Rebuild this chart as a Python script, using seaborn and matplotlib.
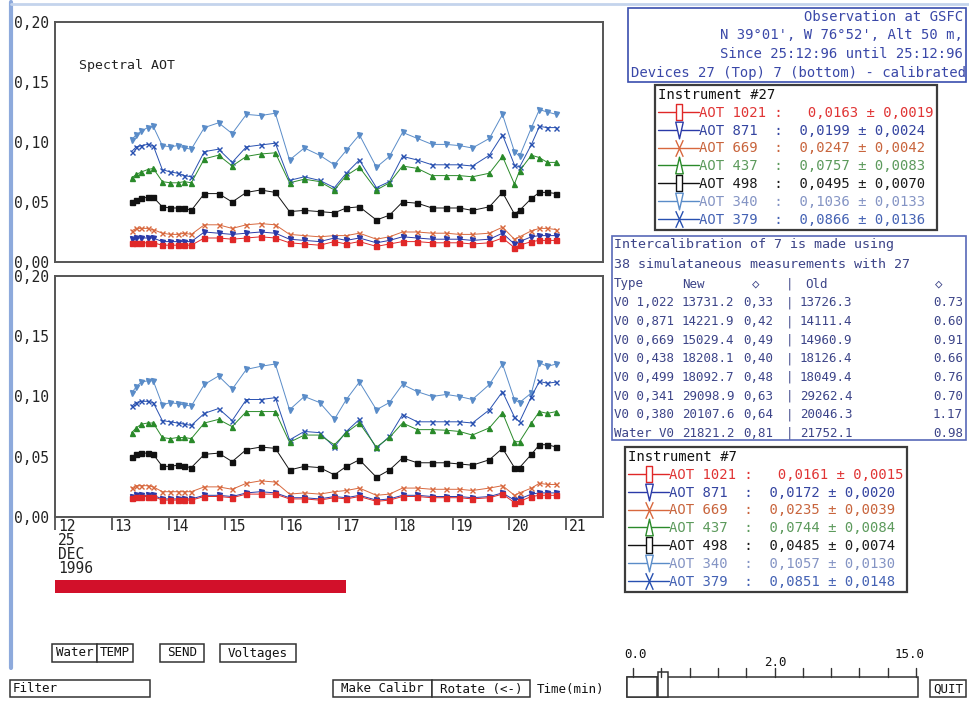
import matplotlib
matplotlib.use("Agg")
import matplotlib.pyplot as plt
import matplotlib.transforms as mtransforms
import seaborn as sns
from matplotlib.lines import Line2D
from matplotlib.patches import Rectangle
from matplotlib.path import Path
from matplotlib.ticker import FixedLocator

# ---------------------------------------------------------------- data
# decimal hours (UT) of the 38 simultaneous measurements, 25 Dec 1996
hours = [13.35, 13.43, 13.52, 13.63, 13.73, 13.89, 14.03, 14.16, 14.28, 14.40,
         14.63, 14.88, 15.12, 15.37, 15.62, 15.88, 16.13, 16.39, 16.66, 16.92,
         17.13, 17.36, 17.66, 17.89, 18.12, 18.38, 18.64, 18.89, 19.12, 19.35,
         19.65, 19.88, 20.09, 20.18, 20.39, 20.53, 20.67, 20.83]

bands = ["1021", "871", "669", "437", "498", "340", "379"]

# instrument #27 (top panel)
top_1021 = [0.016, 0.016, 0.016, 0.016, 0.016, 0.014, 0.014, 0.014, 0.014, 0.014,
            0.020, 0.020, 0.019, 0.020, 0.021, 0.020, 0.016, 0.015, 0.014, 0.017,
            0.015, 0.017, 0.013, 0.015, 0.017, 0.017, 0.016, 0.016, 0.016, 0.015,
            0.016, 0.020, 0.012, 0.014, 0.017, 0.018, 0.018, 0.018]
top_871 = [0.019, 0.020, 0.020, 0.020, 0.020, 0.017, 0.017, 0.017, 0.017, 0.017,
           0.025, 0.024, 0.023, 0.024, 0.025, 0.024, 0.019, 0.018, 0.017, 0.020,
           0.018, 0.020, 0.016, 0.018, 0.021, 0.020, 0.019, 0.019, 0.019, 0.018,
           0.019, 0.024, 0.015, 0.017, 0.021, 0.022, 0.022, 0.022]
top_669 = [0.026, 0.028, 0.028, 0.028, 0.027, 0.024, 0.023, 0.023, 0.024, 0.023,
           0.031, 0.031, 0.028, 0.031, 0.032, 0.031, 0.023, 0.022, 0.021, 0.022,
           0.022, 0.024, 0.019, 0.021, 0.025, 0.025, 0.024, 0.024, 0.023, 0.023,
           0.024, 0.029, 0.019, 0.021, 0.026, 0.028, 0.028, 0.027]
top_437 = [0.070, 0.073, 0.075, 0.077, 0.078, 0.067, 0.066, 0.066, 0.067, 0.066,
           0.086, 0.089, 0.080, 0.088, 0.090, 0.091, 0.066, 0.069, 0.067, 0.060,
           0.072, 0.079, 0.060, 0.066, 0.080, 0.078, 0.072, 0.072, 0.072, 0.071,
           0.074, 0.088, 0.065, 0.076, 0.089, 0.087, 0.083, 0.083]
top_498 = [0.050, 0.052, 0.053, 0.054, 0.054, 0.046, 0.045, 0.045, 0.045, 0.043,
           0.057, 0.057, 0.050, 0.058, 0.060, 0.058, 0.042, 0.043, 0.042, 0.041,
           0.045, 0.046, 0.035, 0.039, 0.050, 0.049, 0.045, 0.045, 0.045, 0.043,
           0.046, 0.058, 0.040, 0.043, 0.053, 0.058, 0.058, 0.057]
top_340 = [0.102, 0.106, 0.109, 0.112, 0.113, 0.097, 0.096, 0.097, 0.095, 0.094,
           0.112, 0.116, 0.107, 0.123, 0.122, 0.124, 0.085, 0.095, 0.089, 0.081,
           0.093, 0.106, 0.079, 0.088, 0.108, 0.103, 0.098, 0.098, 0.097, 0.095,
           0.103, 0.123, 0.092, 0.088, 0.112, 0.127, 0.125, 0.123]
top_379 = [0.092, 0.096, 0.097, 0.098, 0.097, 0.077, 0.075, 0.074, 0.072, 0.071,
           0.092, 0.094, 0.083, 0.096, 0.0975, 0.099, 0.068, 0.071, 0.068, 0.062,
           0.074, 0.085, 0.062, 0.067, 0.088, 0.085, 0.081, 0.081, 0.081, 0.080,
           0.089, 0.106, 0.081, 0.079, 0.098, 0.113, 0.112, 0.112]

# instrument #7 (bottom panel)
bot_1021 = [0.016, 0.017, 0.017, 0.017, 0.017, 0.014, 0.014, 0.014, 0.014, 0.014,
            0.017, 0.017, 0.016, 0.019, 0.019, 0.019, 0.015, 0.015, 0.014, 0.016,
            0.015, 0.017, 0.013, 0.014, 0.017, 0.017, 0.016, 0.016, 0.016, 0.015,
            0.016, 0.019, 0.012, 0.013, 0.017, 0.018, 0.018, 0.018]
bot_871 = [0.017, 0.018, 0.018, 0.018, 0.018, 0.015, 0.015, 0.015, 0.015, 0.015,
           0.018, 0.018, 0.017, 0.020, 0.021, 0.020, 0.016, 0.016, 0.015, 0.017,
           0.016, 0.018, 0.014, 0.015, 0.018, 0.018, 0.017, 0.017, 0.017, 0.016,
           0.017, 0.020, 0.014, 0.015, 0.019, 0.020, 0.020, 0.020]
bot_669 = [0.024, 0.026, 0.026, 0.026, 0.025, 0.021, 0.021, 0.021, 0.021, 0.021,
           0.025, 0.025, 0.023, 0.028, 0.030, 0.029, 0.019, 0.020, 0.019, 0.021,
           0.022, 0.024, 0.018, 0.019, 0.024, 0.024, 0.023, 0.023, 0.023, 0.022,
           0.024, 0.026, 0.018, 0.020, 0.024, 0.028, 0.027, 0.027]
bot_437 = [0.070, 0.074, 0.077, 0.078, 0.078, 0.066, 0.065, 0.066, 0.066, 0.065,
           0.078, 0.081, 0.075, 0.0875, 0.0875, 0.0875, 0.062, 0.068, 0.068, 0.060,
           0.070, 0.078, 0.058, 0.066, 0.078, 0.0725, 0.0725, 0.072, 0.071, 0.068,
           0.074, 0.0865, 0.0625, 0.0625, 0.078, 0.0875, 0.086, 0.0875]
bot_498 = [0.050, 0.052, 0.053, 0.053, 0.052, 0.042, 0.042, 0.043, 0.042, 0.041,
           0.052, 0.053, 0.046, 0.056, 0.058, 0.057, 0.039, 0.042, 0.041, 0.035,
           0.042, 0.0475, 0.033, 0.039, 0.049, 0.045, 0.045, 0.045, 0.044, 0.043,
           0.0475, 0.057, 0.041, 0.041, 0.052, 0.060, 0.060, 0.058]
bot_340 = [0.103, 0.108, 0.112, 0.113, 0.113, 0.093, 0.095, 0.094, 0.093, 0.092,
           0.110, 0.117, 0.106, 0.1225, 0.125, 0.127, 0.089, 0.100, 0.095, 0.081,
           0.0975, 0.112, 0.089, 0.095, 0.110, 0.104, 0.100, 0.1017, 0.100, 0.0975,
           0.110, 0.127, 0.0975, 0.095, 0.103, 0.128, 0.125, 0.127]
bot_379 = [0.092, 0.095, 0.096, 0.096, 0.095, 0.080, 0.079, 0.078, 0.077, 0.076,
           0.086, 0.090, 0.080, 0.0975, 0.0975, 0.099, 0.064, 0.071, 0.070, 0.058,
           0.071, 0.081, 0.057, 0.067, 0.085, 0.079, 0.079, 0.079, 0.079, 0.078,
           0.089, 0.104, 0.083, 0.079, 0.100, 0.1125, 0.111, 0.112]

top_series = [top_1021, top_871, top_669, top_437, top_498, top_340, top_379]
bot_series = [bot_1021, bot_871, bot_669, bot_437, bot_498, bot_340, bot_379]

# mean +- std per band, as reported for each instrument
mean_27 = [0.0163, 0.0199, 0.0247, 0.0757, 0.0495, 0.1036, 0.0866]
std_27 = [0.0019, 0.0024, 0.0042, 0.0083, 0.0070, 0.0133, 0.0136]
mean_7 = [0.0161, 0.0172, 0.0235, 0.0744, 0.0485, 0.1057, 0.0851]
std_7 = [0.0015, 0.0020, 0.0039, 0.0084, 0.0074, 0.0130, 0.0148]

# intercalibration table
v0_types = ["V0 1,022", "V0 0,871", "V0 0,669", "V0 0,438", "V0 0,499",
            "V0 0,341", "V0 0,380", "Water V0"]
v0_new = ["13731.2", "14221.9", "15029.4", "18208.1", "18092.7", "29098.9",
          "20107.6", "21821.2"]
sig_new = ["0,33", "0,42", "0,49", "0,40", "0,48", "0,63", "0,64", "0,81"]
v0_old = ["13726.3", "14111.4", "14960.9", "18126.4", "18049.4", "29262.4",
          "20046.3", "21752.1"]
sig_old = ["0.73", "0.60", "0.91", "0.66", "0.76", "0.70", "1.17", "0.98"]

y_ticks = [0.00, 0.05, 0.10, 0.15, 0.20]
y_ticklabels = ["0,00", "0,05", "0,10", "0,15", "0,20"]
x_ticks = [12, 13, 14, 15, 16, 17, 18, 19, 20, 21]
x_ticklabels = ["12\n25\nDEC\n1996", "13", "14", "15", "16", "17", "18", "19", "20", "21"]
progress_end = 17.13

# ---------------------------------------------------------------- style
line_colors = {"1021": "#e02828", "871": "#2a3aa8", "669": "#d8683e",
               "437": "#2a8a2a", "498": "#111111", "340": "#5a8cc8",
               "379": "#2850b0"}
text_colors = {"1021": "#e03434", "871": "#3444a0", "669": "#c8643c",
               "437": "#5c9a5c", "498": "#1a1a1a", "340": "#8494c4",
               "379": "#4462b4"}
plot_markers = {"1021": "s", "871": "v", "669": "x", "437": "^",
                "498": "s", "340": "v", "379": "x"}


def tall(kind):
    M, L, C = Path.MOVETO, Path.LINETO, Path.CLOSEPOLY
    if kind == "rect":
        return Path([(-0.4, -1), (0.4, -1), (0.4, 1), (-0.4, 1), (-0.4, -1)],
                    [M, L, L, L, C])
    if kind == "down":
        return Path([(-0.45, 1), (0.45, 1), (0, -1), (-0.45, 1)], [M, L, L, C])
    if kind == "up":
        return Path([(-0.45, -1), (0.45, -1), (0, 1), (-0.45, -1)], [M, L, L, C])
    return Path([(-0.45, -1), (0.45, 1), (-0.45, 1), (0.45, -1)], [M, L, M, L])


legend_markers = {"1021": tall("rect"), "871": tall("down"), "669": tall("x"),
                  "437": tall("up"), "498": tall("rect"), "340": tall("down"),
                  "379": tall("x")}

sns.set_style("white")
plt.rcParams["font.family"] = ["DejaVu Sans Mono", "DejaVu Sans"]

W, H = 969, 702
fig = plt.figure(figsize=(W / 100, H / 100), dpi=100)
fig.patch.set_facecolor("white")


def fx(x):
    return x / W


def fy(y):
    return 1 - y / H


def box(x0, y0, x1, y1, ec="#333333", lw=1.0, fc="white"):
    fig.add_artist(Rectangle((fx(x0), fy(y1)), (x1 - x0) / W, (y1 - y0) / H,
                             transform=fig.transFigure, facecolor=fc,
                             edgecolor=ec, lw=lw))


def say(x, y, s, size=10, color="#111111", ha="left"):
    fig.text(fx(x), fy(y), s, ha=ha, va="center", fontsize=size, color=color)


# window frame
fig.add_artist(Line2D([fx(11), fx(11)], [fy(2), fy(668)], color="#8eaadc", lw=3,
                      transform=fig.transFigure))
fig.add_artist(Line2D([fx(11), fx(969)], [fy(4), fy(4)], color="#c4d4ec", lw=2,
                      transform=fig.transFigure))

# ---------------------------------------------------------------- panels
ax_top = fig.add_axes([fx(55), fy(262), (603 - 55) / W, (262 - 22) / H])
ax_bot = fig.add_axes([fx(55), fy(517), (603 - 55) / W, (517 - 276) / H])

draw_order = ["340", "379", "437", "498", "669", "871", "1021"]
for ax, series in ((ax_top, top_series), (ax_bot, bot_series)):
    by_band = dict(zip(bands, series))
    for band in draw_order:
        c = line_colors[band]
        sns.lineplot(x=hours, y=by_band[band], ax=ax, color=c,
                     marker=plot_markers[band], markersize=3.6,
                     markeredgecolor=c, markerfacecolor=c, markeredgewidth=1.0,
                     linewidth=0.7, estimator=None, sort=False, legend=False)
    ax.set_xlim(12, 21.65)
    ax.set_ylim(0, 0.20)
    ax.set_xlabel("")
    ax.set_ylabel("")
    ax.set_yticks(y_ticks)
    ax.set_yticklabels(y_ticklabels)
    ax.yaxis.set_minor_locator(FixedLocator([0.05, 0.10, 0.15]))
    ax.tick_params(axis="y", which="major", left=True, length=0, pad=4,
                   labelsize=10.5, labelcolor="#222222")
    ax.tick_params(axis="y", which="minor", left=True, direction="in",
                   length=6, width=1.1, color="#333333")
    for sp in ax.spines.values():
        sp.set_color("#555555")
        sp.set_linewidth(1.4)

ax_top.set_xticks(x_ticks)
ax_top.tick_params(axis="x", bottom=False, labelbottom=False)
ax_top.text(0.043, 0.82, "Spectral AOT", transform=ax_top.transAxes,
            fontsize=9.5, color="#222222", va="center")

ax_bot.set_xticks(x_ticks)
ax_bot.set_xticklabels(x_ticklabels)
ax_bot.tick_params(axis="x", bottom=True, direction="out", length=9, width=1.1,
                   color="#333333", pad=-7.5, labelsize=10.5, labelcolor="#222222")
shift = mtransforms.ScaledTranslation(2 / 72, 0, fig.dpi_scale_trans)
for lbl in ax_bot.get_xticklabels():
    lbl.set_horizontalalignment("left")
    lbl.set_linespacing(0.92)
    lbl.set_transform(lbl.get_transform() + shift)

# progress bar under the time axis
bar_tr = mtransforms.blended_transform_factory(ax_bot.transData, fig.transFigure)
ax_bot.add_patch(Rectangle((12, fy(593)), progress_end - 12, 13 / H,
                           transform=bar_tr, facecolor="#d2102a",
                           edgecolor="none", clip_on=False))

# ---------------------------------------------------------------- header box
box(628, 8, 966, 82, ec="#3a4eae", lw=1.2)
hdr = "#3a48a8"
say(963, 17, "Observation at GSFC", color=hdr, ha="right")
say(963, 35, "N 39\u00b001', W 76\u00b052', Alt 50 m,", color=hdr, ha="right")
say(963, 54, "Since 25:12:96 until 25:12:96", color=hdr, ha="right")
say(631, 73, "Devices 27 (Top) 7 (bottom) - calibrated", color=hdr)


# ---------------------------------------------------------------- legends
def fmt(v):
    return f"{v:.4f}".replace(".", ",")


def instrument_legend(title, means, stds, x0, y0):
    handles, labels = [], []
    for i, band in enumerate(bands):
        c = line_colors[band]
        handles.append(Line2D([], [], color=c, lw=1.0,
                              marker=legend_markers[band], markersize=12,
                              markerfacecolor="white", markeredgecolor=c,
                              markeredgewidth=1.0))
        gap = "   " if i == 0 else "  "
        labels.append(f"AOT {band:<4} :{gap}{fmt(means[i])} \u00b1 {fmt(stds[i])}")
    leg = fig.legend(handles, labels, title=title, loc="upper left",
                     bbox_to_anchor=(fx(x0), fy(y0)),
                     bbox_transform=fig.transFigure, borderaxespad=0,
                     frameon=True, fancybox=False, framealpha=1,
                     edgecolor="#3c3c3c", prop={"size": 10},
                     title_fontproperties={"size": 10},
                     labelcolor=[text_colors[b] for b in bands],
                     handlelength=3.0, handletextpad=0.0, borderpad=0.2,
                     labelspacing=0.28, alignment="left", numpoints=1)
    leg.get_frame().set_linewidth(1.6)
    leg.get_title().set_color("#111111")
    return leg


instrument_legend("Instrument #27", mean_27, std_27, 655, 85)
instrument_legend("Instrument #7", mean_7, std_7, 625, 447)

# ---------------------------------------------------------------- table
box(612, 236, 966, 440, ec="#5868b8", lw=1.2)
tab = "#3c4488"
tsz = 9
say(614, 245, "Intercalibration of 7 is made using", color=tab, size=9.6)
say(614, 264, "38 simulataneous measurements with 27", color=tab, size=9.6)
row0 = 284
say(614, row0, "Type", color=tab, size=tsz)
say(682, row0, "New", color=tab, size=tsz)
say(752, row0, "\u25c7", color=tab, size=tsz)
say(786, row0, "|", color=tab, size=tsz)
say(805, row0, "Old", color=tab, size=tsz)
say(935, row0, "\u25c7", color=tab, size=tsz)
for i in range(len(v0_types)):
    y = 303 + 18.6 * i
    say(614, y, v0_types[i], color=tab, size=tsz)
    say(682, y, v0_new[i], color=tab, size=tsz)
    say(743, y, sig_new[i], color=tab, size=tsz)
    say(786, y, "|", color=tab, size=tsz)
    say(800, y, v0_old[i], color=tab, size=tsz)
    say(963, y, sig_old[i], color=tab, size=tsz, ha="right")

# ---------------------------------------------------------------- controls
btn = 9
for x0, x1, s in ((52, 97, "Water"), (97, 133, "TEMP"), (160, 204, "SEND"),
                  (220, 296, "Voltages")):
    box(x0, 644, x1, 662, lw=1.1)
    say((x0 + x1) / 2, 653, s, size=btn, ha="center")
box(10, 680, 150, 697, lw=1.1)
say(13, 689, "Filter", size=btn)
box(333, 680, 432, 697, lw=1.1)
say(382, 689, "Make Calibr", size=btn, ha="center")
box(432, 680, 530, 697, lw=1.1)
say(481, 689, "Rotate (<-)", size=btn, ha="center")
say(537, 689, "Time(min)", size=btn)

box(627, 677, 918, 697, lw=1.1)
box(627, 677, 657, 697, lw=1.1)
box(658, 672, 668, 697, lw=1.1)
for k in range(11):
    xt = 633 + k * 28.3
    fig.add_artist(Line2D([fx(xt), fx(xt)], [fy(668), fy(677)], color="#333333",
                          lw=1.0, transform=fig.transFigure))
say(624, 655, "0.0", size=btn)
say(764, 663, "2.0", size=btn)
say(895, 655, "15.0", size=btn)
box(930, 680, 966, 697, lw=1.1)
say(948, 689, "QUIT", size=btn, ha="center")

fig.savefig("out.png", dpi=100)
